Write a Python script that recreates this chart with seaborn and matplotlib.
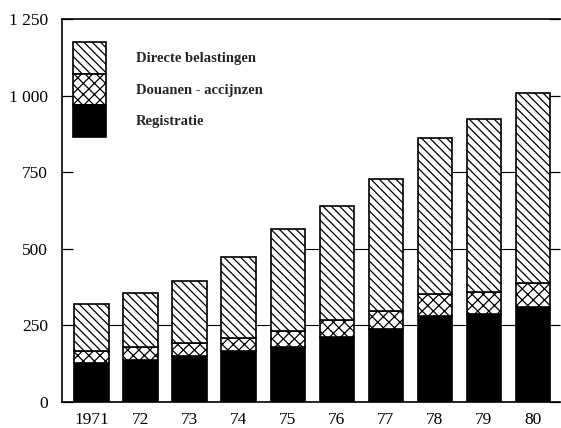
import matplotlib
matplotlib.use("Agg")
import matplotlib.pyplot as plt
import seaborn as sns
import numpy as np
import pandas as pd

# Belastingontvangsten per jaar, gestapeld per categorie
years = ["1971", "72", "73", "74", "75", "76", "77", "78", "79", "80"]
registratie = [127, 137, 150, 166, 180, 212, 238, 281, 287, 310]
douanen_accijnzen = [39, 43, 43, 43, 52, 56, 59, 71, 72, 78]
directe_belastingen = [154, 176, 203, 264, 333, 372, 431, 510, 565, 620]

y_ticks = [0, 250, 500, 750, 1000, 1250]
y_tick_labels = ["0", "250", "500", "750", "1 000", "1 250"]
grid_levels = [250, 500, 750, 1000]

sns.set_style("white")
plt.rcParams["font.family"] = ["Liberation Serif", "DejaVu Serif"]
plt.rcParams["hatch.linewidth"] = 0.9

df = pd.DataFrame({
    "jaar": years,
    "registratie": registratie,
    "douanen": douanen_accijnzen,
    "directe": directe_belastingen,
})
df["bottom_douanen"] = df["registratie"]
df["bottom_directe"] = df["registratie"] + df["douanen"]
df["totaal"] = df["bottom_directe"] + df["directe"]

fig = plt.figure(figsize=(5.61, 4.28), dpi=100)
ax = fig.add_axes([62 / 561, 26 / 428, 498 / 561, 383 / 428])

bar_width = 0.7
common = dict(order=years, width=bar_width, saturation=1, edgecolor="black",
              linewidth=1.2, ax=ax, zorder=3)
sns.barplot(data=df, x="jaar", y="registratie", color="black", **common)
sns.barplot(data=df, x="jaar", y="douanen", bottom=df["bottom_douanen"],
            color="white", hatch="xxx", **common)
sns.barplot(data=df, x="jaar", y="directe", bottom=df["bottom_directe"],
            color="white", hatch="\\\\\\\\", **common)

# horizontal guide segments between neighbouring bars that both reach the level
totals = df["totaal"].to_numpy()
for level in grid_levels:
    for i in range(len(years) - 1):
        if min(totals[i], totals[i + 1]) > level:
            ax.hlines(level, i + bar_width / 2, i + 1 - bar_width / 2,
                      color="black", linewidth=0.8, zorder=1)

ax.set_xlim(-0.6, 9.55)
ax.set_ylim(0, 1250)
ax.set_yticks(y_ticks)
ax.set_yticklabels(y_tick_labels)
ax.set_xlabel("")
ax.set_ylabel("")

for side in ["left", "bottom", "top"]:
    ax.spines[side].set_visible(True)
    ax.spines[side].set_color("black")
    ax.spines[side].set_linewidth(1.2)
ax.spines["right"].set_visible(False)

ax.tick_params(axis="y", direction="in", length=8, width=0.9, left=True,
               right=True, labelsize=12.5, pad=10, colors="black")
ax.tick_params(axis="x", length=0, labelsize=12.5, pad=7, colors="black")

handles = [ax.containers[2], ax.containers[1], ax.containers[0]]
labels = ["Directe belastingen", "Douanen - accijnzen", "Registratie"]
leg = ax.legend(handles, labels, loc="upper left", bbox_to_anchor=(0.022, 0.94),
                frameon=False, borderpad=0, borderaxespad=0, labelspacing=0,
                handlelength=2.3, handleheight=2.95, handletextpad=2.0,
                prop={"family": "Liberation Serif", "weight": "bold", "size": 10.5})

fig.savefig("out.png", dpi=100)
